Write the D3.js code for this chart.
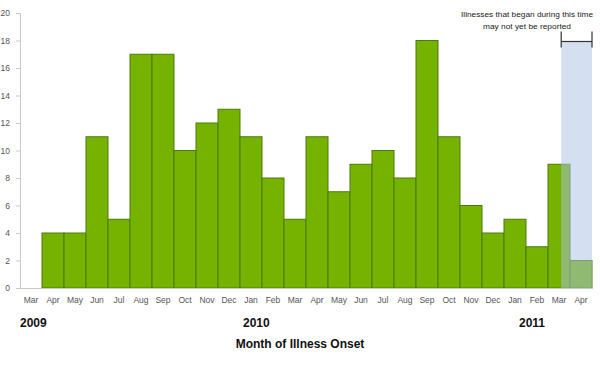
<!DOCTYPE html>
<html>
<head>
<meta charset="utf-8">
<script src="https://cdn.jsdelivr.net/npm/d3@7"></script>
<style>
  body { margin: 0; background: #fff; }
  text { font-family: "Liberation Sans", Arial, sans-serif; }
</style>
</head>
<body>
<div class="chart"></div>
<script>
// months of illness onset, Mar 2009 .. Apr 2011
var months = ["Mar","Apr","May","Jun","Jul","Aug","Sep","Oct","Nov","Dec","Jan","Feb",
              "Mar","Apr","May","Jun","Jul","Aug","Sep","Oct","Nov","Dec","Jan","Feb","Mar","Apr"];
var cases = [0,4,4,11,5,17,17,10,12,13,11,8,5,11,7,9,10,8,18,11,6,4,5,3,9,2];
var years = [{label: "2009", idx: 0, dx: -11}, {label: "2010", idx: 10, dx: -8}, {label: "2011", idx: 22, dx: 4}];
var yTicks = [0,2,4,6,8,10,12,14,16,18,20];
var notReportedFrom = 24.6; // band position where the shaded area begins
var note = ["Illnesses that began during this time", "may not yet be reported"];

var w = 600, h = 367;
var svg = d3.select(".chart").append("svg")
  .attr("width", w)
  .attr("height", h);

var x = d3.scaleBand()
  .domain(d3.range(months.length))
  .range([20, 592])
  .padding(0);

var y = d3.scaleLinear()
  .domain([0, 20])
  .range([288, 13]);

// y axis
var yAxis = svg.append("g")
  .attr("transform", "translate(20,0)")
  .call(d3.axisLeft(y).tickValues(yTicks).tickSize(4).tickPadding(6));
yAxis.select(".domain").attr("stroke", "#c8c8c8");
yAxis.selectAll(".tick line").attr("stroke", "#c8c8c8");
yAxis.selectAll("text").attr("fill", "#555").style("font-size", "8.5px");

// bars
svg.selectAll("rect.bar")
  .data(cases)
  .enter().append("rect")
  .attr("class", "bar")
  .attr("x", function(d, i) { return x(i); })
  .attr("y", function(d) { return y(d); })
  .attr("width", x.bandwidth())
  .attr("height", function(d) { return y(0) - y(d); })
  .attr("fill", "#76b300")
  .attr("stroke", "#4d7a0a")
  .attr("stroke-width", 1)
  .style("display", function(d) { return d > 0 ? null : "none"; });

// shaded "not yet reported" area, drawn on top of the bars
var sx0 = x(0) + notReportedFrom * x.step();
var sx1 = x.range()[1];
var by = y(18) + 1;
svg.append("rect")
  .attr("x", sx0)
  .attr("y", by)
  .attr("width", sx1 - sx0)
  .attr("height", y(0) - by)
  .attr("fill", "#a9c1e3")
  .attr("opacity", 0.5);

// bracket
svg.append("line").attr("x1", sx0).attr("x2", sx1).attr("y1", by).attr("y2", by)
  .attr("stroke", "#333").attr("stroke-width", 1.2);
[sx0, sx1].forEach(function(bx) {
  svg.append("line").attr("x1", bx).attr("x2", bx).attr("y1", by - 10).attr("y2", by + 6)
    .attr("stroke", "#333").attr("stroke-width", 1.2);
});

svg.selectAll("text.note")
  .data(note)
  .enter().append("text")
  .attr("class", "note")
  .attr("x", 527)
  .attr("y", function(d, i) { return 17 + i * 12; })
  .attr("text-anchor", "middle")
  .attr("textLength", function(d, i) { return i == 0 ? 132 : 88; })
  .attr("lengthAdjust", "spacingAndGlyphs")
  .style("font-size", "8px")
  .attr("fill", "#222")
  .text(function(d) { return d; });

// x axis
var xAxis = svg.append("g")
  .attr("transform", "translate(0,288)")
  .call(d3.axisBottom(x).tickSize(0).tickPadding(9).tickFormat(function(i) { return months[i]; }));
xAxis.select(".domain").attr("stroke", "#c8c8c8");
xAxis.selectAll("text").attr("fill", "#555").style("font-size", "8.5px");

// year labels
svg.selectAll("text.year")
  .data(years)
  .enter().append("text")
  .attr("class", "year")
  .attr("x", function(d) { return x(d.idx) + x.bandwidth() / 2 + d.dx; })
  .attr("y", 327)
  .style("font-size", "12px")
  .style("font-weight", "bold")
  .attr("fill", "#111")
  .text(function(d) { return d.label; });

svg.append("text")
  .attr("x", 300).attr("y", 348)
  .attr("text-anchor", "middle")
  .style("font-size", "12px")
  .style("font-weight", "bold")
  .attr("fill", "#111")
  .text("Month of Illness Onset");
</script>
</body>
</html>
